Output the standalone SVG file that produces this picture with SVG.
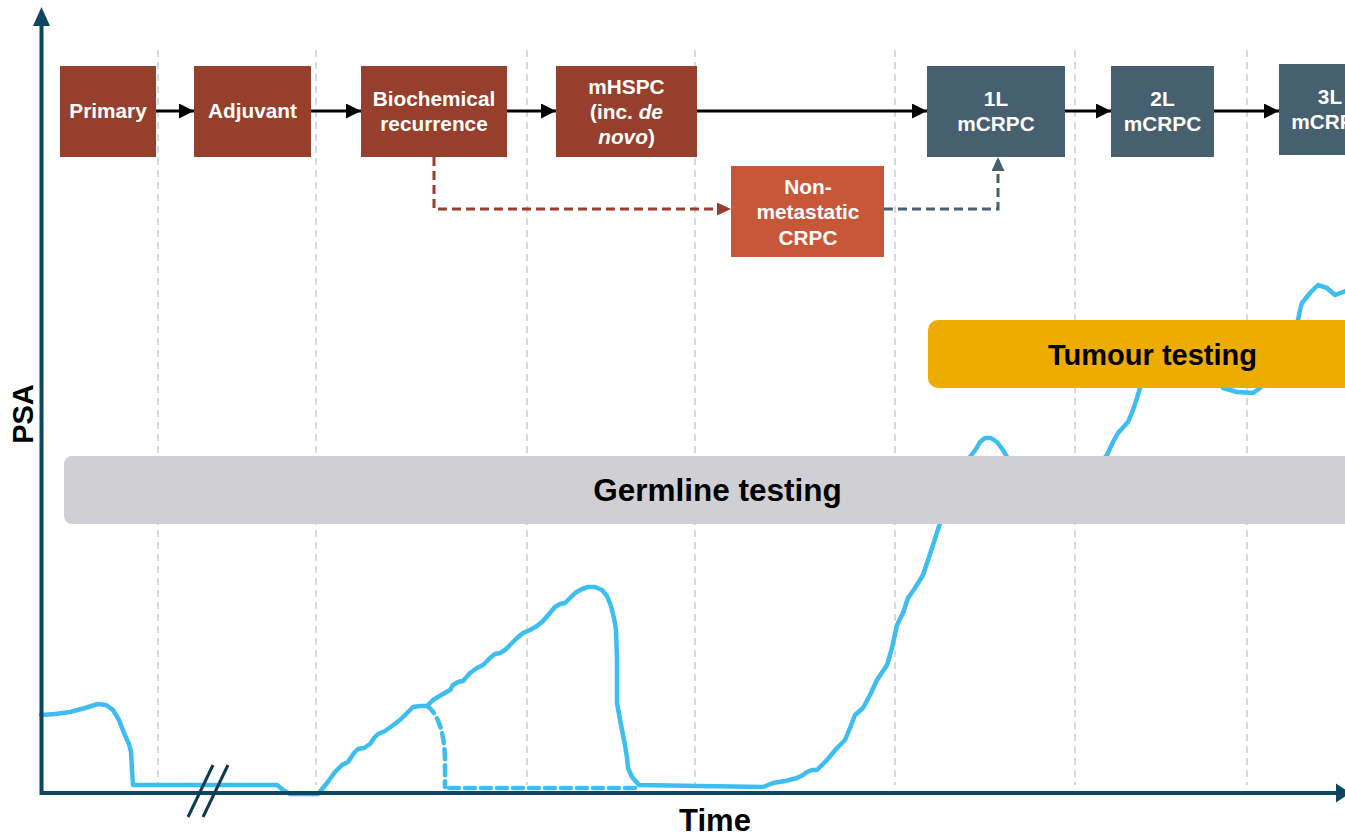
<svg xmlns="http://www.w3.org/2000/svg" width="1345" height="836" viewBox="0 0 1345 836">
<defs>
<style>
.grid{stroke:#cdcdcd;stroke-width:1.5;stroke-dasharray:7 5;fill:none}
.box text{font-family:"Liberation Sans",Arial,sans-serif;font-weight:bold;font-size:20.8px;fill:#ffffff;text-anchor:middle}
.brown{fill:#963f2c}
.slate{fill:#46606f}
.orange{fill:#c8573a}
.flow{stroke:#000;stroke-width:3;fill:none}
.lbl{font-family:"Liberation Sans",Arial,sans-serif;font-weight:bold;fill:#000;text-anchor:middle}
.psa{stroke:#3dbdf0;stroke-width:4.5;fill:none;stroke-linejoin:round;stroke-linecap:round}
.axis{stroke:#0d4660;stroke-width:4;fill:none}
</style>
<marker id="ah" markerUnits="userSpaceOnUse" markerWidth="15" markerHeight="15" viewBox="0 0 15 15" refX="15" refY="7.5" orient="auto"><path d="M0,0 L15,7.5 L0,15 z" fill="#000"/></marker>
<marker id="ahb" markerUnits="userSpaceOnUse" markerWidth="14" markerHeight="13" viewBox="0 0 14 13" refX="14" refY="6.5" orient="auto"><path d="M0,0 L14,6.5 L0,13 z" fill="#963f2c"/></marker>
<marker id="ahs" markerUnits="userSpaceOnUse" markerWidth="14" markerHeight="13" viewBox="0 0 14 13" refX="14" refY="6.5" orient="auto"><path d="M0,0 L14,6.5 L0,13 z" fill="#46606f"/></marker>
</defs>
<rect width="1345" height="836" fill="#ffffff"/>

<g id="gridlines">
<line class="grid" x1="158" y1="50" x2="158" y2="785"/>
<line class="grid" x1="316" y1="50" x2="316" y2="785"/>
<line class="grid" x1="527" y1="50" x2="527" y2="785"/>
<line class="grid" x1="695" y1="50" x2="695" y2="785"/>
<line class="grid" x1="895" y1="50" x2="895" y2="785"/>
<line class="grid" x1="1075" y1="50" x2="1075" y2="785"/>
<line class="grid" x1="1247" y1="50" x2="1247" y2="785"/>
</g>

<g id="psa-curve">
<path class="psa" d="M41,715 L55,714 L70,712 L85,708 L98,704 L106,705 L113,710 L119,720 L124,733 L129,744 L131,752 L132,770 L133,785 L277,785 L283,790 L290,794 L318,794 L327,783 L335,772 L342,765 L348,762 L354,753 L358,749 L364,748 L370,744 L374,738 L378,734 L385,731 L392,726 L400,720 L408,712 L413,707 L420,706 L427,706 L433,700 L443,694 L450,690 L453,685 L458,682 L463,681 L470,673 L477,668 L483,665 L490,658 L495,654 L500,653 L505,650 L510,645 L517,638 L523,633 L530,630 L537,626 L543,621 L549,614 L555,607 L560,604 L565,603 L570,598 L575,593 L582,589 L588,587 L595,587 L602,590 L607,596 L611,606 L614,618 L616,630 L617,660 L617,703 L621,725 L625,745 L627,758 L628,768 L632,777 L639,785 L700,786 L763,787 L773,783 L785,781 L797,778 L803,775 L807,772 L812,770 L817,770 L827,760 L837,748 L845,740 L850,728 L855,715 L863,708 L870,695 L877,680 L887,665 L892,648 L897,625 L903,613 L908,598 L915,588 L923,575 L928,560 L934,542 L940,523 L947,505 L953,487 L960,472 L970,457 L976,449 L980,442 L985,438 L991,438 L997,442 L1003,450 L1007,457 L1015,475 L1040,500 L1070,500 L1095,470 L1107,455 L1113,442 L1118,433 L1128,422 L1133,410 L1137,398 L1140,388 L1148,362 L1165,340 L1190,335 L1210,360 L1223,388 L1237,392 L1253,393 L1260,388 L1275,370 L1290,345 L1298,320 L1300,310 L1302,303 L1310,293 L1318,285 L1327,288 L1335,295 L1343,292 L1348,290"/>
<path class="psa" stroke-linecap="butt" stroke-dasharray="10 6" d="M427,706 C436,712 444,728 445,758 L445,787"/>
<path class="psa" stroke-linecap="butt" stroke-width="6" stroke-dasharray="10 6" d="M449,788 L640,788"/>
</g>

<g id="axes">
<line class="axis" x1="41.5" y1="24" x2="41.5" y2="795"/>
<path d="M41.5,7 L50,26 L33,26 z" fill="#0d4660"/>
<line class="axis" x1="40" y1="793" x2="1338" y2="793"/>
<path d="M1350,793 L1336,783.5 L1336,802.5 z" fill="#0d4660"/>
<line x1="188" y1="817" x2="213" y2="765" stroke="#0d3a50" stroke-width="3"/>
<line x1="203" y1="817" x2="228" y2="765" stroke="#0d3a50" stroke-width="3"/>
<text class="lbl" font-size="29" transform="translate(33,414) rotate(-90)">PSA</text>
<text class="lbl" font-size="31" x="715" y="831">Time</text>
</g>

<g id="germline-testing">
<rect x="64" y="456" width="1300" height="68" rx="8" fill="#d0cfd3"/>
<text class="lbl" font-size="31.5" x="717.5" y="501">Germline testing</text>
</g>

<g id="tumour-testing">
<rect x="928" y="320" width="440" height="68" rx="10" fill="#eeab00"/>
<text class="lbl" font-size="29" x="1152.5" y="365">Tumour testing</text>
</g>

<g id="connectors">
<line class="flow" x1="156" y1="111" x2="194" y2="111" marker-end="url(#ah)"/>
<line class="flow" x1="311" y1="111" x2="361" y2="111" marker-end="url(#ah)"/>
<line class="flow" x1="507" y1="111" x2="556" y2="111" marker-end="url(#ah)"/>
<line class="flow" x1="697" y1="111" x2="927" y2="111" marker-end="url(#ah)"/>
<line class="flow" x1="1065" y1="111" x2="1111" y2="111" marker-end="url(#ah)"/>
<line class="flow" x1="1214" y1="111" x2="1279" y2="111" marker-end="url(#ah)"/>
<path d="M434,157 L434,209 L731,209" fill="none" stroke="#963f2c" stroke-width="3" stroke-dasharray="9 5" marker-end="url(#ahb)"/>
<path d="M884,209 L998,209 L998,157" fill="none" stroke="#46606f" stroke-width="3" stroke-dasharray="9 5" marker-end="url(#ahs)"/>
</g>

<g id="primary" class="box"><rect class="brown" x="60" y="66" width="96" height="91"/><text x="108" y="118">Primary</text></g>
<g id="adjuvant" class="box"><rect class="brown" x="194" y="66" width="117" height="91"/><text x="252.5" y="118">Adjuvant</text></g>
<g id="biochemical-recurrence" class="box"><rect class="brown" x="361" y="66" width="146" height="91"/><text x="434" y="106">Biochemical</text><text x="434" y="131">recurrence</text></g>
<g id="mhspc" class="box"><rect class="brown" x="556" y="66" width="141" height="91"/><text x="626.5" y="94">mHSPC</text><text x="626.5" y="119">(inc. <tspan font-style="italic">de</tspan></text><text x="626.5" y="144"><tspan font-style="italic">novo</tspan>)</text></g>
<g id="nmcrpc" class="box"><rect class="orange" x="731" y="166" width="153" height="91"/><text x="808" y="194">Non-</text><text x="808" y="219">metastatic</text><text x="808" y="245">CRPC</text></g>
<g id="mcrpc-1l" class="box"><rect class="slate" x="927" y="66" width="138" height="91"/><text x="996" y="106">1L</text><text x="996" y="131">mCRPC</text></g>
<g id="mcrpc-2l" class="box"><rect class="slate" x="1111" y="66" width="103" height="91"/><text x="1162.5" y="106">2L</text><text x="1162.5" y="131">mCRPC</text></g>
<g id="mcrpc-3l" class="box"><rect class="slate" x="1279" y="64" width="100" height="91"/><text x="1330" y="104">3L</text><text x="1330" y="129">mCRPC</text></g>
</svg>
